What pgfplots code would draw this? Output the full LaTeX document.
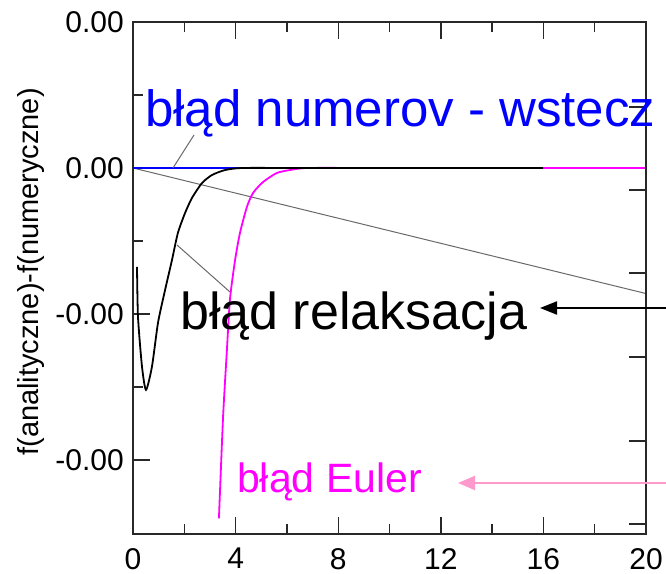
\documentclass[border=0pt]{standalone}
\usepackage{fontspec}
\setmainfont{Liberation Sans}
\usepackage{pgfplots}
\pgfplotsset{compat=1.18}
\usetikzlibrary{arrows.meta}
\definecolor{eulermag}{RGB}{255,0,255}
\definecolor{arrowpink}{RGB}{255,153,204}
\definecolor{leadgray}{RGB}{105,105,105}
\definecolor{framegray}{RGB}{40,40,40}
\newcommand{\tickfont}{\fontsize{30bp}{36bp}\selectfont}
\begin{document}
\begin{tikzpicture}
\begin{axis}[
  at={(133bp,40bp)}, anchor=south west,
  scale only axis, width=513bp, height=512bp,
  xmin=0, xmax=20, ymin=-2.507, ymax=1,
  axis line style={framegray, line width=1.6bp},
  every tick/.style={framegray, line width=1.4bp},
  tick align=inside,
  major tick length=17bp, minor tick length=10bp,
  xtick={0,4,8,12,16,20}, xticklabels={0,4,8,12,16,20},
  minor x tick num=1,
  ytick={-2,-1,0,1}, yticklabels={-0.00,-0.00,0.00,0.00},
  minor y tick num=1,
  ytick pos=left, xtick pos=both,
  xticklabel style={font=\tickfont, inner sep=0pt, yshift=-14bp},
  yticklabel style={font=\tickfont, inner sep=0pt, xshift=-9bp},
]
\addplot[leadgray, line width=1bp] coordinates {(0,0) (20,-0.86)};
\addplot[blue, line width=1.8bp] coordinates {(0,0) (16,0)};
\addplot[eulermag, line width=1.8bp, smooth, tension=0.4] coordinates {
(3.35,-2.40) (3.51,-1.71) (3.66,-1.25) (3.78,-0.90) (3.98,-0.63) (4.17,-0.445)
(4.44,-0.267) (4.68,-0.171) (5.07,-0.096) (5.61,-0.034) (6.12,-0.014) (6.78,0) (9,0)};
\addplot[eulermag, line width=1.8bp] coordinates {(9,0) (20,0)};
\addplot[black, line width=1.8bp, smooth, tension=0.4] coordinates {
(0.156,-0.678) (0.195,-1.02) (0.35,-1.36) (0.507,-1.52) (0.74,-1.36) (0.975,-1.06)
(1.25,-0.836) (1.52,-0.63) (1.75,-0.445) (2.03,-0.308) (2.30,-0.205) (2.69,-0.103)
(3.08,-0.048) (3.59,-0.014) (4.25,0) (6,0)};
\addplot[black, line width=1.8bp] coordinates {(6,0) (16,0)};
\end{axis}
\begin{axis}[
  at={(133bp,40bp)}, anchor=south west,
  scale only axis, width=513bp, height=512bp,
  xmin=0, xmax=20, ymin=-2.507, ymax=1,
  hide x axis, axis y line*=right,
  axis line style={framegray, line width=1.6bp},
  every tick/.style={framegray, line width=1.4bp},
  tick align=inside, major tick length=17bp,
  ytick={0.418,-0.151,-0.719,-1.295,-1.870,-2.438}, yticklabels={},
  minor tick num=0,
]
\addplot[draw=none] coordinates {(0,0)};
\end{axis}
\begin{scope}[x=1bp, y=-1bp, yshift=574bp]
\node[blue, anchor=base west, inner sep=0pt, font=\fontsize{51bp}{61bp}\selectfont] at (145,127) {błąd numerov - wstecz};
\node[black, anchor=base west, inner sep=0pt, font=\fontsize{52bp}{62bp}\selectfont] at (180,330) {błąd relaksacja};
\node[eulermag, anchor=base west, inner sep=0pt, font=\fontsize{41bp}{49bp}\selectfont] at (237,493) {błąd Euler};
\node[rotate=90, anchor=center, inner sep=0pt, font=\fontsize{29bp}{35bp}\selectfont] at (31,272) {f(analityczne)-f(numeryczne)};
\draw[leadgray, line width=1bp] (194,135) -- (173,168);
\draw[leadgray, line width=1bp] (177,245) -- (230,292);
\draw[black, line width=2bp, -{Triangle[length=17bp,width=13bp]}] (666,308) -- (540,308);
\draw[arrowpink, line width=2bp, -{Triangle[length=17bp,width=14bp]}] (666,483) -- (458,483);
\end{scope}
\pgfresetboundingbox
\path[use as bounding box] (0,0) rectangle (666bp,574bp);
\end{tikzpicture}
\end{document}
